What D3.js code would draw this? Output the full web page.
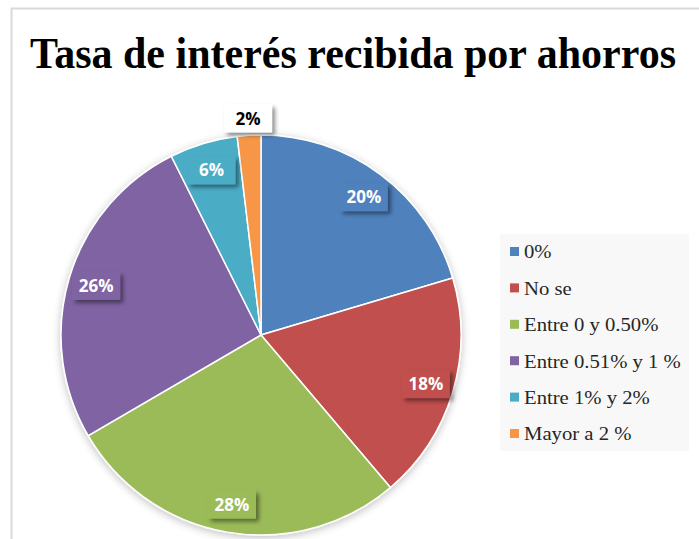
<!DOCTYPE html>
<html>
<head>
<meta charset="utf-8">
<script src="https://cdn.jsdelivr.net/npm/d3@7"></script>
<style>
  body { margin: 0; background: #fff; }
</style>
</head>
<body>
<div id="chart"></div>
<script>
const categories = ["0%", "No se", "Entre 0 y 0.50%", "Entre 0.51% y 1 %", "Entre 1% y 2%", "Mayor a 2 %"];
const values = [20.4, 18.4, 27.8, 26.0, 5.5, 1.9];
const colors = ["#4F81BD", "#C0504D", "#9BBB59", "#8064A2", "#4BACC6", "#F79646"];

const width = 699, height = 539;
const cx = 261, cy = 335, radius = 200;

const svg = d3.select("#chart")
  .append("svg")
  .attr("width", width)
  .attr("height", height);

const defs = svg.append("defs");

// soft shadow around the pie
const glow = defs.append("filter").attr("id", "glow")
  .attr("x", "-20%").attr("y", "-20%").attr("width", "140%").attr("height", "140%");
glow.append("feGaussianBlur").attr("in", "SourceAlpha").attr("stdDeviation", 4);
glow.append("feOffset").attr("dx", 0).attr("dy", 2).attr("result", "b");
glow.append("feComponentTransfer").append("feFuncA").attr("type", "linear").attr("slope", 0.25);
const gm = glow.append("feMerge");
gm.append("feMergeNode");
gm.append("feMergeNode").attr("in", "SourceGraphic");

// drop shadow for the label boxes
const shadow = defs.append("filter").attr("id", "shadow")
  .attr("x", "-30%").attr("y", "-30%").attr("width", "160%").attr("height", "170%");
shadow.append("feGaussianBlur").attr("in", "SourceAlpha").attr("stdDeviation", 2);
shadow.append("feOffset").attr("dx", 3).attr("dy", 3);
shadow.append("feComponentTransfer").append("feFuncA").attr("type", "linear").attr("slope", 0.45);
const sm = shadow.append("feMerge");
sm.append("feMergeNode");
sm.append("feMergeNode").attr("in", "SourceGraphic");

// chart frame (cropped at right and bottom)
svg.append("rect")
  .attr("x", 11.5).attr("y", 8.5)
  .attr("width", width + 20).attr("height", height + 20)
  .attr("fill", "#fff")
  .attr("stroke", "#d9d9d9")
  .attr("stroke-width", 2);

// title
svg.append("text")
  .attr("x", 353).attr("y", 68)
  .attr("text-anchor", "middle")
  .attr("textLength", 646)
  .attr("lengthAdjust", "spacingAndGlyphs")
  .style("font-family", "'Liberation Serif', 'Times New Roman', serif")
  .style("font-weight", "bold")
  .style("font-size", "44px")
  .attr("fill", "#000")
  .text("Tasa de interés recibida por ahorros");

const pie = d3.pie().sort(null).value(d => d);
const arcs = pie(values);
const arc = d3.arc().innerRadius(0).outerRadius(radius);
const labelArc = d3.arc().innerRadius(172).outerRadius(172);
const outerArc = d3.arc().innerRadius(217).outerRadius(217);

const g = svg.append("g").attr("transform", `translate(${cx},${cy})`);

g.append("g")
  .attr("filter", "url(#glow)")
  .selectAll("path")
  .data(arcs)
  .enter()
  .append("path")
  .attr("d", arc)
  .attr("fill", (d, i) => colors[i])
  .attr("stroke", "#fff")
  .attr("stroke-width", 1.5);

// data labels
const labels = g.selectAll(".lbl")
  .data(arcs)
  .enter()
  .append("g")
  .attr("class", "lbl")
  .attr("transform", (d, i) => {
    const p = values[i] < 5 ? outerArc.centroid(d) : labelArc.centroid(d);
    return `translate(${p[0]},${p[1]})`;
  });

labels.append("rect")
  .attr("x", -24).attr("y", -14)
  .attr("width", 48).attr("height", 28)
  .attr("fill", (d, i) => values[i] < 5 ? "#fff" : colors[i])
  .attr("filter", "url(#shadow)");

labels.append("text")
  .attr("text-anchor", "middle")
  .attr("dy", "0.36em")
  .style("font-family", "'Open Sans', 'DejaVu Sans', sans-serif")
  .style("font-weight", "bold")
  .style("font-size", "17px")
  .attr("fill", (d, i) => values[i] < 5 ? "#000" : "#fff")
  .text((d, i) => Math.round(values[i]) + "%");

// legend
const legend = svg.append("g").attr("transform", "translate(500,234)");
legend.append("rect")
  .attr("width", 189).attr("height", 217)
  .attr("fill", "#f8f8f8");

const legendY = d3.scalePoint().domain(categories).range([18, 200]);

const items = legend.selectAll(".item")
  .data(categories)
  .enter()
  .append("g")
  .attr("class", "item")
  .attr("transform", d => `translate(0,${legendY(d)})`);

items.append("rect")
  .attr("x", 10).attr("y", -5)
  .attr("width", 9).attr("height", 9)
  .attr("fill", (d, i) => colors[i]);

items.append("text")
  .attr("transform", "translate(24,0) scale(1.15,1)")
  .attr("dy", "0.35em")
  .style("font-family", "'Liberation Serif', 'Times New Roman', serif")
  .style("font-size", "18px")
  .attr("fill", "#262626")
  .text(d => d);
</script>
</body>
</html>
